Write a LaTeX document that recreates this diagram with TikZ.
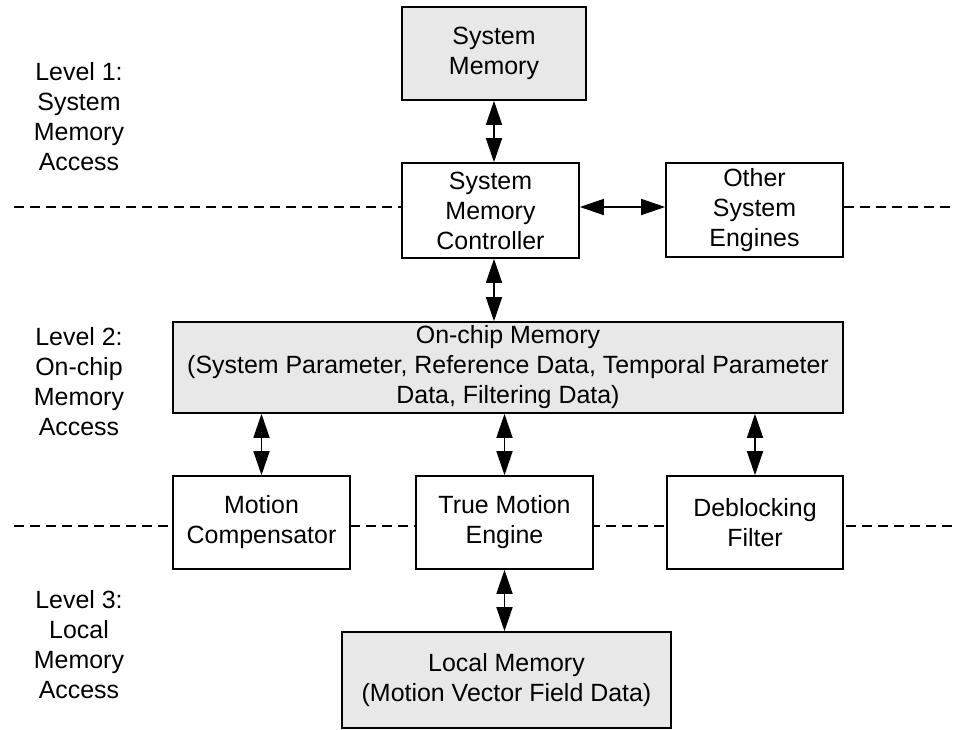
\documentclass[tikz,border=0pt]{standalone}
\usepackage{fontspec}
\setmainfont{Liberation Sans}
\usetikzlibrary{arrows.meta}

\definecolor{boxgray}{RGB}{232,232,232}

\tikzset{every picture/.style={line width=0.75pt}}
\tikzset{
  blockbox/.style={draw, line width=1.2pt, fill=white, align=center, inner sep=0pt,
    font=\fontsize{18.7}{22.5}\selectfont},
  membox/.style={blockbox, fill=boxgray},
  levellabel/.style={align=center, inner sep=0pt, font=\fontsize{18.7}{22.5}\selectfont},
  twoway/.style={line width=1.1pt, {Triangle[length=18pt,width=12pt]}-{Triangle[length=18pt,width=12pt]}},
  levelsep/.style={line width=1.1pt, dash pattern=on 7.5pt off 4.5pt}
}

\begin{document}
\begin{tikzpicture}[x=0.75pt,y=0.75pt,yscale=-1,xscale=1]
\useasboundingbox (0,0) rectangle (961,729);
\coordinate (sepL1) at (14,207);
\coordinate (sepR1) at (952,207);
\coordinate (sepL2) at (14,526);
\coordinate (sepR2) at (952,526);
%Straight Lines: lower level separator
\draw [levelsep] (sepL2) -- (sepR2) ;

% Level 1
\node [membox, minimum width=138pt, minimum height=69.75pt] (sysmem) at (494,53.5) {System\\Memory};
\node [blockbox, minimum width=132.75pt, minimum height=71.25pt] (ctrl) at (490.5,210.5) {System\\Memory\\Controller};
\node [blockbox, minimum width=132.75pt, minimum height=70.5pt] (other) at (754.5,210) {Other\\System\\Engines};

% Level 2
\node [membox, minimum width=502.5pt, minimum height=68.25pt] (chip) at (508,367.5) {On-chip Memory\\(System Parameter, Reference Data, Temporal Parameter\\Data, Filtering Data)};

% Level 3
\node [blockbox, minimum width=132.75pt, minimum height=69.75pt] (mc) at (261.5,522.5) {Motion\\Compensator};
\node [blockbox, minimum width=132.75pt, minimum height=69.75pt] (tme) at (504.5,522.5) {True Motion\\Engine};
\node [blockbox, minimum width=132pt, minimum height=69.75pt] (dbf) at (755,522.5) {Deblocking\\Filter};
\node [membox, minimum width=246.75pt, minimum height=72pt] (local) at (506.5,680) {Local Memory\\(Motion Vector Field Data)};

% Text Node
\node [levellabel] (lvl1) at (79,117) {Level 1:\\System\\Memory\\Access};
% Text Node
\node [levellabel] (lvl2) at (79,382) {Level 2:\\On-chip\\Memory\\Access};
% Text Node
\node [levellabel] (lvl3) at (79,645) {Level 3:\\Local\\Memory\\Access};

%Straight Lines: upper level separator
\draw [levelsep] (sepL1) -- (sepL1 -| ctrl.west) ;
\draw [levelsep] (sepR1 -| other.east) -- (sepR1) ;

%Straight Lines: connectors
\draw [twoway] (sysmem.south) -- (sysmem.south |- ctrl.north) ;
\draw [twoway] (ctrl.east |- sepL1) -- (other.west |- sepL1) ;
\draw [twoway] (sysmem.south |- ctrl.south) -- (sysmem.south |- chip.north) ;
\draw [twoway] (mc.north |- chip.south) -- (mc.north) ;
\draw [twoway] (tme.north |- chip.south) -- (tme.north) ;
\draw [twoway] (dbf.north |- chip.south) -- (dbf.north) ;
\draw [twoway] (tme.south) -- (local.north -| tme.south) ;
\end{tikzpicture}
\end{document}
